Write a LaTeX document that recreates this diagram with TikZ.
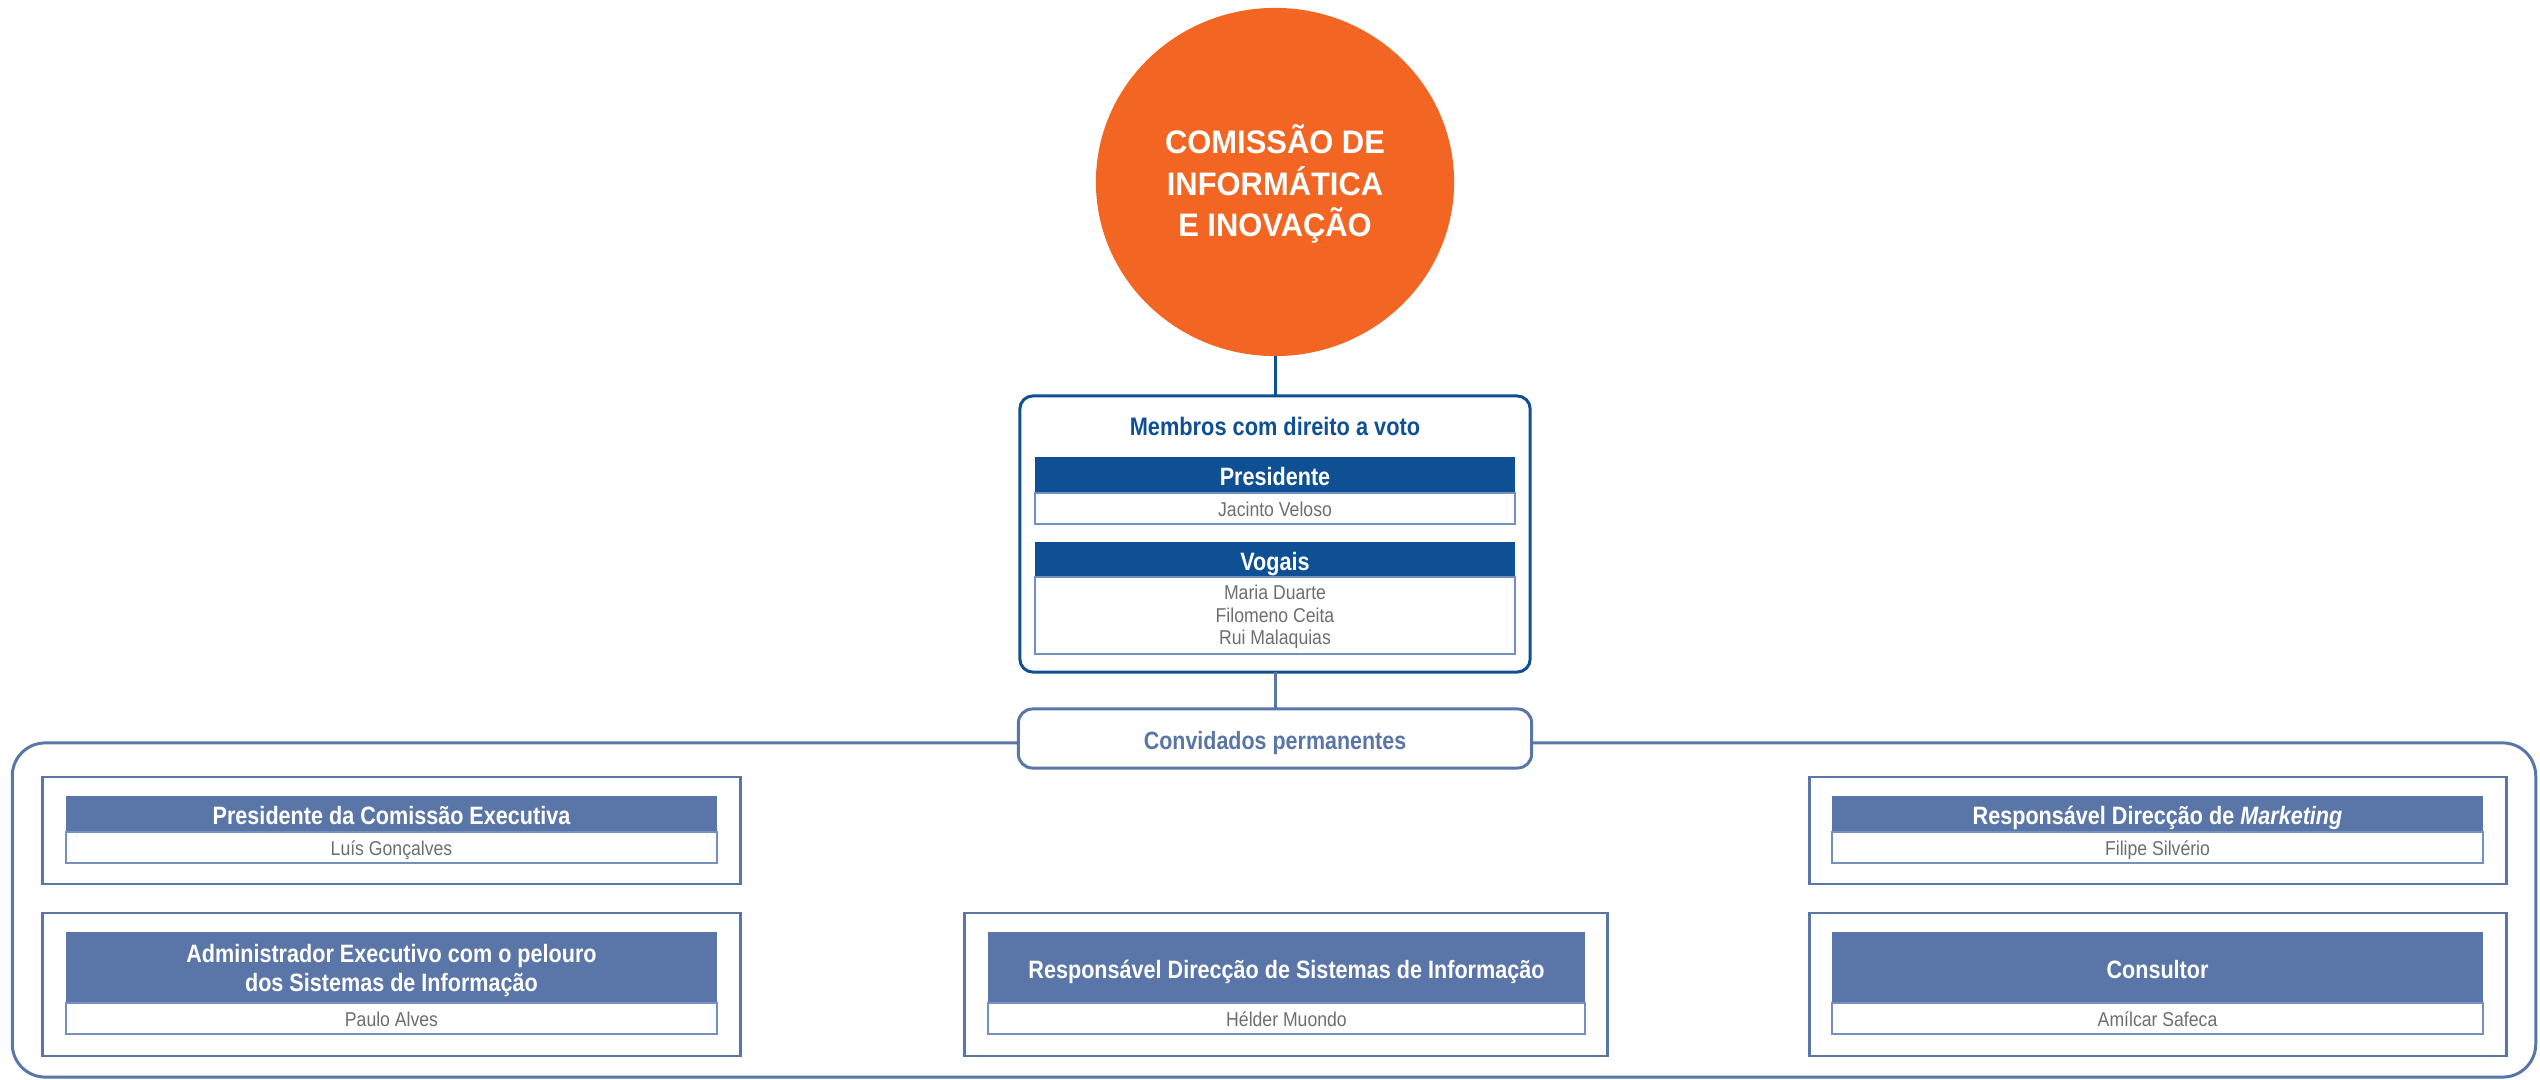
\documentclass[tikz,border=0pt]{standalone}
\usepackage{fontspec}
\setmainfont{Liberation Sans}
\newfontfamily\hdfont{Liberation Sans}[FakeStretch=0.86]
\newfontfamily\nmfont{Liberation Sans}[FakeStretch=0.88]
\newfontfamily\circfont{Liberation Sans}[FakeStretch=0.95]
\usetikzlibrary{shapes.geometric}
\definecolor{orng}{HTML}{F26522}
\definecolor{dblue}{HTML}{0F5095}
\definecolor{sblue}{HTML}{5A76A8}
\definecolor{lblue}{HTML}{7390C2}
\definecolor{gtext}{HTML}{6E6E70}
\begin{document}
\begin{tikzpicture}[x=0.01cm,y=-0.01cm,
  base/.style={inner sep=0pt, outer sep=0pt},
  frame/.style={base, draw=sblue, line width=0.85pt, rounded corners=0.33cm},
  circ/.style={base, ellipse, fill=orng, minimum width=3.58cm, minimum height=3.48cm},
  ctext/.style={base, text=white, align=center, font=\circfont\bfseries\fontsize{9.25pt}{11.8pt}\selectfont},
  memb/.style={base, draw=dblue, fill=white, line width=0.85pt, rounded corners=0.13cm, minimum width=5.1cm, minimum height=2.76cm},
  mtitle/.style={base, text=dblue, font=\hdfont\bfseries\fontsize{7.2pt}{8.5pt}\selectfont},
  hdfnt/.style={font=\hdfont\bfseries\fontsize{7.14pt}{8.5pt}\selectfont},
  one/.style={text height=6.2pt, text depth=0pt},
  hdrD/.style={base, fill=dblue, text=white, align=center, hdfnt},
  hdrS/.style={base, fill=sblue, text=white, align=center, hdfnt},
  hdtxt/.style={base, text=white, align=center, hdfnt},
  nameb/.style={base, draw=lblue, fill=white, line width=0.43pt, text=gtext, align=center, font=\nmfont\fontsize{5.7pt}{6.4pt}\selectfont},
  nm1/.style={text height=4.6pt, text depth=0pt},
  conv/.style={base, draw=sblue, fill=white, line width=0.85pt, rounded corners=0.14cm, minimum width=5.13cm, minimum height=0.59cm, text=sblue, text height=6.3pt, text depth=0pt, font=\hdfont\bfseries\fontsize{7.1pt}{8.5pt}\selectfont},
  gbox/.style={base, draw=sblue, fill=white, line width=0.8pt},
  dline/.style={draw=dblue, line width=0.85pt},
  sline/.style={draw=sblue, line width=0.85pt}
]
\fill[white] (0,0) rectangle (2540,1080);
\useasboundingbox (0,0) rectangle (2540,1080);

% outer frame of permanent guests
\node[frame, minimum width=25.22cm, minimum height=3.34cm] (frame) at (1274,910) {};

% top circle
\node[circ] (circ) at (1275,182) {};
\node[ctext] (ctitle) at (1275,184) {COMISSÃO DE\\INFORMÁTICA\\E INOVAÇÃO};

% voting members
\node[memb] (memb) at (1275,534) {};
\node[mtitle] (mtitle) at (1275,426) {Membros com direito a voto};
\node[hdrD, one, minimum width=4.8cm, minimum height=0.36cm] (presH) at (1275,475) {Presidente};
\node[nameb, nm1, minimum width=4.8cm, minimum height=0.31cm] (presN) at (1275,508.5) {Jacinto Veloso};
\node[hdrD, one, minimum width=4.8cm, minimum height=0.35cm] (vogH) at (1275,559.5) {Vogais};
\node[nameb, minimum width=4.8cm, minimum height=0.77cm] (vogN) at (1275,615.5) {};
\node[base, text=gtext, align=center, font=\nmfont\fontsize{5.7pt}{6.4pt}\selectfont] (vogT) at (1275,617) {Maria Duarte\\Filomeno Ceita\\Rui Malaquias};

% permanent guests label
\node[conv] (conv) at (1275,738.5) {Convidados permanentes};

\draw[dline] (circ.south) -- (memb.north);
\draw[sline] (memb.south) -- (conv.north);

% box A
\node[gbox, minimum width=6.97cm, minimum height=1.07cm] (boxA) at (391.5,830.5) {};
\node[hdrS, one, minimum width=6.51cm, minimum height=0.36cm] (hA) at (391.5,814) {Presidente da Comissão Executiva};
\node[nameb, nm1, minimum width=6.51cm, minimum height=0.31cm] (nA) at (391.5,847.5) {Luís Gonçalves};

% box B
\node[gbox, minimum width=6.97cm, minimum height=1.43cm] (boxB) at (391.5,984.5) {};
\node[hdrS, minimum width=6.51cm, minimum height=0.71cm] (hB) at (391.5,967.5) {};
\node[hdtxt] (hBt) at (391.5,970.5) {Administrador Executivo com o pelouro\\dos Sistemas de Informação};
\node[nameb, nm1, minimum width=6.51cm, minimum height=0.31cm] (nB) at (391.5,1018.5) {Paulo Alves};

% box C
\node[gbox, minimum width=6.42cm, minimum height=1.43cm] (boxC) at (1286,984.5) {};
\node[hdrS, one, minimum width=5.97cm, minimum height=0.71cm] (hC) at (1286.5,967.5) {Responsável Direcção de Sistemas de Informação};
\node[nameb, nm1, minimum width=5.97cm, minimum height=0.31cm] (nC) at (1286.5,1018.5) {Hélder Muondo};

% box D
\node[gbox, minimum width=6.96cm, minimum height=1.07cm] (boxD) at (2158,830.5) {};
\node[hdrS, one, minimum width=6.51cm, minimum height=0.36cm] (hD) at (2157.5,814) {Responsável Direcção de \textit{Marketing}};
\node[nameb, nm1, minimum width=6.51cm, minimum height=0.31cm] (nD) at (2157.5,847.5) {Filipe Silvério};

% box E
\node[gbox, minimum width=6.96cm, minimum height=1.43cm] (boxE) at (2158,984.5) {};
\node[hdrS, one, minimum width=6.51cm, minimum height=0.71cm] (hE) at (2157.5,967.5) {Consultor};
\node[nameb, nm1, minimum width=6.51cm, minimum height=0.31cm] (nE) at (2157.5,1018.5) {Amílcar Safeca};
\end{tikzpicture}
\end{document}
